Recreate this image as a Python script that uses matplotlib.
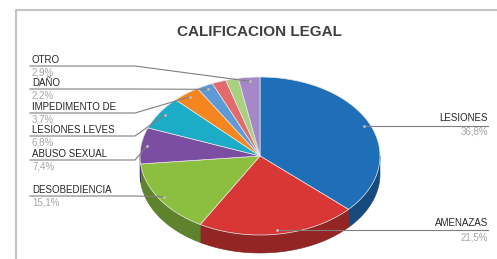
import numpy as np
import matplotlib.pyplot as plt
from matplotlib.patches import Polygon

# datos del grafico
categorias = ['LESIONES', 'AMENAZAS', 'DESOBEDIENCIA', 'ABUSO SEXUAL', 'LESIONES LEVES',
              'IMPEDIMENTO DE', 'DAÑO', '', '', 'OTRO']
porcentajes = [36.8, 21.5, 15.1, 7.4, 6.8, 3.7, 2.2, 1.9, 1.7, 2.9]
colores = ['#1f6fb8', '#d93636', '#8cbf40', '#7b4ea1', '#1badc8',
           '#f5861f', '#5d9ad6', '#e36a6a', '#a9d07e', '#a588c7']

# layout (pixeles)
W, H = 497, 259
cx, cy, rx, ry, prof = 260, 156, 120, 79, 18
# y del texto de cada etiqueta (None = sin etiqueta), lado
etiq_y = [118, 223, 190, 154, 130, 107, 83, None, None, 60]
etiq_lado = ['r', 'r', 'l', 'l', 'l', 'l', 'l', None, None, 'l']

plt.rcParams['font.family'] = ['Liberation Sans', 'DejaVu Sans']
fig = plt.figure(figsize=(W / 100, H / 100), dpi=100)
ax = fig.add_axes([0, 0, 1, 1])
ax.set_xlim(0, W)
ax.set_ylim(H, 0)
ax.axis('off')


def punto(th, r=1.0, dz=0.0):
    th = np.radians(th)
    return cx + r * rx * np.cos(th), cy - r * ry * np.sin(th) + dz


def oscuro(c, f=0.68):
    import matplotlib.colors as mc
    rgb = np.array(mc.to_rgb(c))
    return tuple(rgb * f)


vals = np.array(porcentajes) / sum(porcentajes)
cum = np.concatenate([[0], np.cumsum(vals)])
ang1 = 90 - 360 * cum[:-1]
ang2 = 90 - 360 * cum[1:]

# paredes laterales (mitad frontal: -180..0)
for a1, a2, c in zip(ang1, ang2, colores):
    hi, lo = min(a1, 0), max(a2, -180)
    if hi <= lo:
        continue
    t = np.linspace(hi, lo, 60)
    xs, ys = punto(t)
    xb, yb = punto(t[::-1], dz=prof)
    pts = np.column_stack([np.concatenate([xs, xb]), np.concatenate([ys, yb])])
    ax.add_patch(Polygon(pts, closed=True, fc=oscuro(c), ec=oscuro(c, 0.6), lw=0.4))

# caras superiores
for a1, a2, c in zip(ang1, ang2, colores):
    t = np.linspace(a1, a2, 120)
    xs, ys = punto(t)
    pts = np.column_stack([np.concatenate([[cx], xs]), np.concatenate([[cy], ys])])
    ax.add_patch(Polygon(pts, closed=True, fc=c, ec='#e8e8e8', lw=0.5))

# titulo
ax.text(259, 32, 'CALIFICACION LEGAL', ha='center', va='center',
        fontsize=11, fontweight='bold', color='#404040')

# etiquetas con lineas guia
for nom, v, a1, a2, y, lado in zip(categorias, porcentajes, ang1, ang2, etiq_y, etiq_lado):
    if lado is None:
        continue
    ax_, ay_ = punto((a1 + a2) / 2, r=0.95)
    pct = f'{v:.1f}%'.replace('.', ',')
    ly = y + 6
    if lado == 'l':
        ax.plot([30, 135, ax_], [ly, ly, ay_], color='#7f7f7f', lw=0.8)
        ax.text(32, y, nom, ha='left', va='center', fontsize=7, color='#262626')
        ax.text(32, y + 12.5, pct, ha='left', va='center', fontsize=7, color='#a6a6a6')
    else:
        ax.plot([ax_, 488], [ay_, ay_], color='#7f7f7f', lw=0.8)
        ax.text(488, y, nom, ha='right', va='center', fontsize=7, color='#262626')
        ax.text(488, y + 14, pct, ha='right', va='center', fontsize=7, color='#a6a6a6')
    ax.plot(ax_, ay_, 'o', ms=2, color='#c0c0c0', mec='none')

# marco
ax.plot([16, 16, W], [H, 9.5, 9.5], color='#c4c4c4', lw=1.5)

fig.savefig('out.png', dpi=100)
